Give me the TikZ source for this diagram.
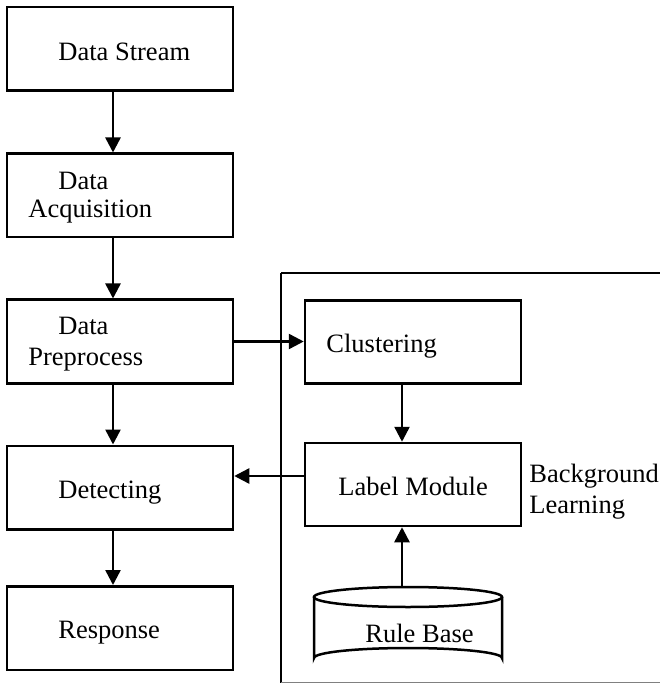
\documentclass[tikz,border=0pt]{standalone}
\usepackage{fontspec}
\setmainfont{Liberation Serif}
\usetikzlibrary{arrows.meta,calc}
\begin{document}
\begin{tikzpicture}[x=0.5pt,y=-0.5pt,
  font=\fontsize{13.25}{14}\selectfont,
  lw/.style={line width=1.25pt},
  lbox/.style={draw,lw,rectangle,minimum width=113pt,minimum height=41.75pt,inner sep=0pt},
  rbox/.style={draw,lw,rectangle,minimum width=108pt,minimum height=41.5pt,inner sep=0pt},
  txt/.style={anchor=base west,inner sep=0pt},
  arr/.style={lw,-{Triangle[length=7.5pt,width=7.5pt]}}]
\useasboundingbox (0,0) rectangle (659,683);

% enclosing frame of the learning part
\draw[lw] (281,273) -- (700,273);
\draw[lw] (281,273) -- (281,682.5);
\draw[line width=0.5pt,gray] (281,682.5) -- (700,682.5);

% main pipeline boxes
\node[lbox] (ds) at (120,49) {};
\node[lbox] (da) at (120,195.5) {};
\node[lbox] (dp) at (120,341.5) {};
\node[lbox] (det) at (120,487.5) {};
\node[lbox] (resp) at (120,628) {};

\node[txt] at (58,61) {Data Stream};
\node[txt] at (58,190) {Data};
\node[txt] at (28,218) {Acquisition};
\node[txt] at (58,335) {Data};
\node[txt] at (28,365) {Preprocess};
\node[txt] at (58,498) {Detecting};
\node[txt] at (58,638) {Response};

% background learning boxes
\node[rbox] (cl) at (413,342) {};
\node[rbox] (lm) at (413,484.5) {};
\node[txt] at (326,352) {Clustering};
\node[txt] at (338,495) {Label Module};
\node[txt] at (529,482) {Background};
\node[txt] at (529,513) {Learning};

% rule base cylinder
\draw[lw] (314,597) -- (314,658) arc[start angle=180,end angle=360,x radius=94,y radius=10]
  -- (502,597);
\draw[lw] (408,597) ellipse[x radius=94,y radius=10];
\coordinate (rb) at (402,587);
\node[txt] at (365,642) {Rule Base};

% connectors
\draw[arr] ($(ds.south)+(-7,0)$) -- ($(da.north)+(-7,0)$);
\draw[arr] ($(da.south)+(-7,0)$) -- ($(dp.north)+(-7,0)$);
\draw[arr] ($(dp.south)+(-7,0)$) -- ($(det.north)+(-7,0)$);
\draw[arr] ($(det.south)+(-7,0)$) -- ($(resp.north)+(-7,0)$);
\draw[arr] (dp.east) -- (dp.east -| cl.west);
\draw[arr] ($(cl.south)+(-11,0)$) -- ($(lm.north)+(-11,0)$);
\coordinate (lmout) at ($(lm.west)+(0,-8.5)$);
\draw[arr] (lmout) -- (lmout -| det.east);
\draw[arr] (rb) -- (rb |- lm.south);
\end{tikzpicture}
\end{document}
